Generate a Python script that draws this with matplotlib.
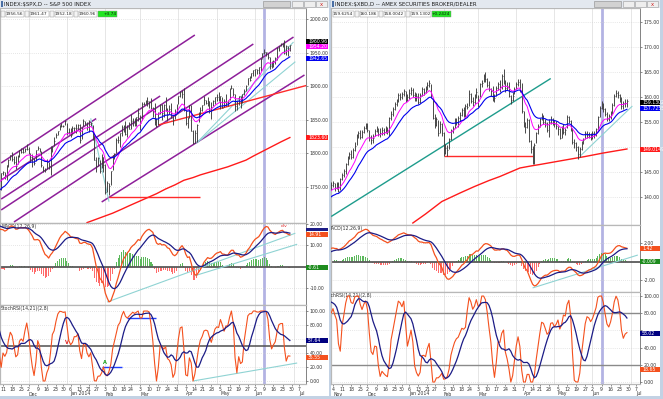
import numpy as np
import pandas as pd
import matplotlib
matplotlib.use("Agg")
import matplotlib.pyplot as plt
import matplotlib.transforms as mtransforms
from matplotlib.patches import Rectangle
from matplotlib.ticker import FuncFormatter

plt.rcParams["font.family"] = ["DejaVu Sans"]

W, H = 663, 399

HOLIDAYS = ["2013-11-28", "2013-12-25", "2014-01-01", "2014-01-20",
            "2014-02-17", "2014-04-18", "2014-05-26", "2014-07-04"]

# S&P 500 daily closes, 2013-09-03 .. 2014-06-27 (Sep/Oct only feed the indicators)
spx_close = [
    # Sep
    1639.8, 1653.1, 1655.1, 1655.2, 1671.7, 1684.0, 1689.1, 1683.4, 1688.0, 1697.6,
    1704.8, 1725.5, 1722.3, 1709.9, 1701.8, 1697.4, 1692.8, 1698.7, 1691.8, 1681.6,
    # Oct
    1695.0, 1693.9, 1678.7, 1690.5, 1676.1, 1655.5, 1656.4, 1692.6, 1703.2, 1710.1,
    1698.1, 1721.5, 1733.2, 1744.5, 1744.7, 1754.7, 1746.4, 1752.1, 1759.8, 1762.1,
    1772.0, 1763.3, 1756.5,
    # Nov
    1761.6, 1767.9, 1763.0, 1770.5, 1747.2, 1770.6, 1771.9, 1767.7, 1782.0, 1790.6,
    1798.2, 1791.5, 1787.9, 1781.4, 1795.9, 1804.8, 1802.5, 1802.8, 1807.2, 1805.8,
    # Dec
    1800.9, 1795.2, 1792.8, 1785.0, 1805.1, 1808.4, 1802.6, 1782.2, 1775.5, 1775.3,
    1786.5, 1781.0, 1810.7, 1809.6, 1818.3, 1828.0, 1833.3, 1842.0, 1841.4, 1841.1, 1848.4,
    # Jan
    1832.0, 1831.4, 1826.8, 1837.9, 1837.5, 1838.1, 1842.4, 1819.2, 1838.9, 1848.4,
    1845.9, 1838.7, 1843.8, 1844.9, 1828.5, 1790.3, 1781.6, 1792.5, 1774.2, 1794.2, 1782.6,
    # Feb
    1741.9, 1755.2, 1751.6, 1773.4, 1797.0, 1799.8, 1819.8, 1819.3, 1829.8, 1838.6,
    1840.8, 1828.8, 1839.8, 1836.3, 1847.6, 1845.1, 1845.2, 1854.3, 1859.5,
    # Mar
    1845.7, 1873.9, 1873.8, 1877.0, 1878.0, 1877.2, 1867.6, 1868.2, 1846.3, 1841.1,
    1858.8, 1872.3, 1860.8, 1872.0, 1866.5, 1857.4, 1865.6, 1852.6, 1849.0, 1857.6, 1872.3,
    # Apr
    1885.5, 1890.9, 1888.8, 1865.1, 1845.0, 1852.0, 1872.2, 1833.1, 1815.7, 1830.6,
    1843.0, 1862.3, 1864.9, 1871.9, 1879.6, 1875.4, 1878.6, 1863.4, 1869.4, 1878.3, 1884.0,
    # May
    1883.7, 1881.1, 1884.7, 1867.7, 1878.2, 1875.6, 1878.5, 1896.7, 1897.5, 1888.5,
    1870.9, 1877.9, 1885.1, 1872.8, 1888.0, 1892.5, 1900.5, 1911.9, 1909.8, 1920.0, 1923.6,
    # Jun
    1925.0, 1924.2, 1927.9, 1940.5, 1949.4, 1951.3, 1950.8, 1943.9, 1930.1, 1936.2,
    1937.8, 1942.0, 1957.0, 1959.5, 1962.9, 1962.6, 1950.0, 1959.5, 1957.2, 1960.96,
]
# bar highs and lows, from 2013-11-08
spx_bar_start = "2013-11-08"
spx_high = [
    1770.8, 1773.4, 1772.1, 1782.0, 1791.0, 1798.2, 1802.3, 1795.5, 1795.7, 1797.2,
    1804.8, 1808.4, 1808.4, 1808.5, 1813.6,
    1810.0, 1800.0, 1799.8, 1792.8, 1805.1, 1811.5, 1808.4, 1803.0, 1781.9, 1777.6,
    1791.0, 1786.8, 1811.0, 1810.9, 1823.8, 1829.8, 1833.3, 1842.8, 1844.9, 1842.5, 1849.4,
    1845.9, 1838.2, 1837.2, 1840.1, 1840.0, 1843.2, 1843.8, 1843.5, 1839.3, 1850.8,
    1847.5, 1846.5, 1849.3, 1846.9, 1842.4, 1826.8, 1795.0, 1793.9, 1789.8, 1798.8, 1793.9,
    1784.8, 1758.7, 1755.8, 1774.1, 1798.0, 1799.9, 1823.5, 1826.6, 1830.3, 1841.7,
    1843.0, 1847.5, 1842.9, 1846.1, 1858.7, 1852.7, 1852.7, 1854.5, 1867.9,
    1857.2, 1876.2, 1876.5, 1879.4, 1883.6, 1877.9, 1882.4, 1868.4, 1874.4, 1852.4,
    1862.3, 1873.8, 1874.1, 1873.5, 1884.0, 1867.0, 1871.9, 1875.2, 1855.6, 1866.6, 1873.0,
    1885.8, 1893.2, 1893.8, 1897.3, 1865.0, 1854.9, 1872.4, 1872.5, 1835.1, 1834.2,
    1844.0, 1862.3, 1869.6, 1871.9, 1884.9, 1879.7, 1884.1, 1877.7, 1877.0, 1880.0, 1884.1,
    1888.6, 1891.3, 1885.0, 1884.4, 1880.4, 1889.1, 1878.8, 1897.1, 1902.2, 1897.3,
    1888.0, 1878.3, 1886.0, 1884.9, 1888.8, 1896.3, 1901.3, 1912.3, 1914.5, 1920.0, 1924.0,
    1925.9, 1925.1, 1928.6, 1941.7, 1949.4, 1955.6, 1950.9, 1949.2, 1943.6, 1937.3,
    1939.3, 1943.7, 1957.7, 1959.9, 1963.9, 1963.7, 1968.2, 1960.8, 1959.9, 1961.47,
]
spx_low = [
    1746.2, 1767.9, 1762.3, 1760.6, 1780.2, 1790.8, 1788.4, 1784.7, 1777.2, 1783.6,
    1794.7, 1800.8, 1800.6, 1802.8, 1805.5,
    1798.7, 1787.9, 1779.1, 1783.4, 1788.9, 1805.1, 1801.8, 1780.1, 1772.4, 1772.5,
    1777.0, 1777.3, 1767.9, 1801.9, 1810.4, 1822.6, 1828.0, 1834.9, 1839.8, 1838.8, 1842.4,
    1827.7, 1829.1, 1823.7, 1828.7, 1831.4, 1830.4, 1834.4, 1815.5, 1821.9, 1841.0,
    1842.4, 1835.2, 1832.4, 1840.9, 1820.1, 1790.3, 1772.9, 1781.7, 1770.4, 1777.6, 1772.3,
    1739.7, 1743.1, 1737.9, 1752.6, 1776.0, 1791.8, 1800.4, 1815.9, 1809.2, 1825.2,
    1832.4, 1826.8, 1824.6, 1835.6, 1836.8, 1840.2, 1840.7, 1841.1, 1847.7,
    1834.4, 1849.2, 1871.6, 1874.0, 1870.6, 1867.0, 1866.1, 1854.4, 1841.9, 1839.6,
    1842.8, 1858.9, 1850.4, 1854.6, 1863.5, 1847.8, 1857.9, 1852.6, 1842.1, 1850.5, 1859.5,
    1873.0, 1883.8, 1882.7, 1863.3, 1841.7, 1837.4, 1852.4, 1833.1, 1814.4, 1815.8,
    1816.3, 1846.0, 1856.7, 1863.2, 1872.6, 1873.9, 1870.2, 1859.7, 1850.6, 1870.6, 1872.9,
    1878.0, 1878.5, 1866.8, 1867.7, 1868.9, 1870.1, 1870.1, 1880.0, 1896.1, 1885.8,
    1862.4, 1864.8, 1872.4, 1868.1, 1875.2, 1886.4, 1893.6, 1902.2, 1907.3, 1911.5, 1915.0,
    1915.9, 1918.8, 1918.6, 1922.9, 1942.4, 1947.2, 1944.6, 1940.1, 1925.8, 1927.7,
    1929.0, 1933.6, 1939.3, 1952.3, 1959.2, 1958.9, 1947.2, 1946.0, 1944.7, 1952.18,
]

# AMEX Securities Broker/Dealer index, 2013-09-03 .. 2014-06-27
xbd_close = [
    # Sep
    136.2, 136.9, 137.4, 137.0, 138.1, 139.0, 138.8, 138.3, 138.6, 139.2,
    139.6, 140.8, 140.3, 139.1, 137.9, 137.6, 137.2, 137.8, 137.1, 136.3,
    # Oct
    137.0, 136.4, 135.2, 135.9, 134.8, 133.4, 133.6, 136.3, 137.0, 137.4,
    136.6, 138.4, 139.2, 139.8, 139.9, 140.7, 140.1, 140.9, 141.4, 141.8,
    142.9, 142.5, 141.8,
    # Nov
    142.4, 142.8, 141.9, 142.6, 141.2, 143.6, 144.5, 145.3, 146.6, 147.8,
    148.6, 148.1, 149.4, 150.2, 152.3, 152.8, 152.0, 153.1, 153.9, 154.3,
    # Dec
    153.4, 152.0, 151.4, 151.9, 153.2, 153.6, 152.7, 152.9, 153.4, 153.0,
    153.5, 153.1, 155.8, 156.6, 157.6, 158.7, 159.2, 160.4, 160.0, 160.6, 161.2,
    # Jan
    159.7, 160.0, 160.9, 161.4, 160.5, 159.9, 160.2, 159.0, 160.4, 161.6,
    161.0, 161.9, 162.4, 162.8, 160.2, 155.9, 154.5, 155.6, 152.8, 154.6, 152.9,
    # Feb
    148.9, 149.9, 149.4, 151.6, 153.4, 153.8, 155.4, 155.0, 155.9, 156.5,
    157.4, 156.4, 158.3, 158.0, 160.6, 159.3, 159.0, 160.4, 161.0,
    # Mar
    159.2, 162.6, 162.9, 164.2, 163.6, 162.5, 161.7, 161.3, 159.6, 159.9,
    161.8, 162.6, 162.0, 164.2, 163.0, 161.9, 162.3, 160.2, 159.4, 160.3, 161.6,
    # Apr
    162.7, 163.1, 161.5, 157.2, 154.6, 154.0, 155.5, 151.3, 149.6, 148.7,
    150.4, 152.8, 154.2, 155.6, 156.3, 155.1, 154.8, 153.4, 155.0, 155.6, 155.1,
    # May
    154.6, 154.2, 153.6, 151.9, 153.8, 153.1, 153.5, 156.0, 155.2, 153.6,
    151.0, 150.8, 150.0, 148.6, 149.6, 150.9, 151.5, 152.8, 152.4, 152.6, 151.9,
    # Jun
    152.9, 152.5, 153.6, 156.0, 157.8, 158.8, 157.6, 156.7, 155.6, 156.2,
    156.9, 158.5, 160.3, 160.9, 160.4, 159.6, 158.2, 158.9, 158.9, 159.13,
]
xbd_bar_start = "2013-11-01"
xbd_high = [
    143.0, 143.3, 142.9, 143.1, 143.0, 143.8, 144.9, 145.7, 146.8, 148.2,
    149.0, 149.4, 149.8, 151.0, 152.6, 153.2, 153.4, 153.5, 154.3, 154.9,
    154.8, 153.5, 152.4, 152.6, 153.6, 154.3, 153.8, 153.9, 154.0, 153.9,
    154.2, 154.0, 156.0, 157.2, 158.1, 159.1, 159.6, 160.8, 160.9, 161.0, 161.7,
    161.2, 160.6, 161.6, 162.0, 161.8, 161.0, 160.9, 160.8, 160.8, 162.0,
    161.9, 162.3, 163.0, 163.4, 162.6, 159.9, 156.6, 156.0, 155.4, 155.3, 154.8,
    153.0, 150.6, 150.4, 151.9, 153.7, 154.2, 155.9, 155.9, 156.2, 157.0,
    157.9, 158.0, 158.6, 158.9, 161.4, 160.9, 160.0, 160.6, 161.9,
    160.4, 162.9, 163.5, 164.6, 165.0, 163.8, 163.2, 161.8, 162.2, 160.6,
    162.2, 163.0, 163.4, 164.6, 165.6, 163.4, 163.0, 163.0, 160.4, 161.0, 162.0,
    163.1, 163.6, 163.7, 162.8, 157.3, 155.0, 155.8, 155.6, 151.5, 150.2,
    150.8, 153.0, 154.6, 155.9, 156.9, 156.4, 155.7, 155.0, 155.6, 156.2, 155.9,
    155.5, 155.2, 154.3, 153.9, 154.2, 154.6, 153.9, 156.4, 156.2, 155.4,
    153.8, 151.6, 151.0, 150.3, 150.0, 151.3, 151.9, 153.2, 153.3, 153.1, 152.9,
    153.3, 153.2, 153.9, 156.3, 158.2, 159.3, 158.9, 157.8, 157.0, 156.6,
    157.2, 158.8, 160.6, 161.4, 161.3, 160.7, 160.1, 159.3, 159.6, 159.6,
]
xbd_low = [
    141.5, 142.0, 141.3, 141.7, 141.0, 141.4, 143.4, 144.0, 144.6, 146.5,
    147.6, 147.7, 147.9, 149.2, 150.4, 151.9, 151.6, 151.8, 152.9, 153.6,
    153.0, 151.3, 150.6, 150.9, 152.2, 153.0, 152.3, 152.1, 152.5, 152.4,
    152.8, 152.6, 152.2, 155.4, 156.3, 157.5, 158.3, 159.1, 159.5, 159.6, 160.3,
    159.0, 159.2, 159.7, 160.5, 160.0, 159.3, 159.2, 158.6, 158.9, 160.3,
    160.5, 160.8, 161.5, 162.0, 159.8, 155.6, 153.8, 154.2, 152.3, 152.9, 152.2,
    148.2, 148.6, 148.3, 149.6, 151.4, 152.8, 153.8, 154.4, 154.0, 155.3,
    156.2, 156.0, 156.1, 157.6, 158.2, 158.8, 158.3, 158.6, 159.8,
    158.1, 160.0, 162.1, 163.0, 163.0, 162.0, 161.3, 160.2, 159.2, 159.0,
    160.3, 161.5, 161.0, 161.6, 162.6, 161.0, 161.4, 160.0, 158.6, 159.2, 160.6,
    161.6, 162.3, 161.0, 156.8, 154.1, 152.9, 153.8, 151.0, 148.9, 146.6,
    146.7, 150.9, 152.6, 154.0, 155.4, 154.7, 154.0, 153.0, 152.1, 154.7, 154.5,
    154.0, 153.6, 152.4, 151.6, 151.8, 152.6, 152.4, 153.8, 154.8, 153.2,
    150.6, 149.9, 149.2, 147.7, 148.0, 149.5, 150.6, 151.7, 151.9, 151.8, 151.4,
    151.6, 151.9, 152.2, 153.4, 156.1, 157.6, 157.1, 156.2, 155.2, 155.3,
    155.6, 156.6, 158.3, 160.0, 159.9, 159.1, 157.7, 157.6, 158.1, 158.0,
]

# 200-day moving averages as shown (red curves)
spx_ma200_dates = ["2014-01-17", "2014-01-24", "2014-01-31", "2014-02-07", "2014-02-14",
                   "2014-02-21", "2014-02-28", "2014-03-07", "2014-03-14", "2014-03-21",
                   "2014-03-28", "2014-04-04", "2014-04-11", "2014-04-17", "2014-04-25",
                   "2014-05-02", "2014-05-09", "2014-05-16", "2014-05-23", "2014-05-30",
                   "2014-06-06", "2014-06-13", "2014-06-20", "2014-06-27"]
spx_ma200 = [1697, 1701, 1706, 1711, 1717, 1722, 1728, 1734, 1740, 1747, 1753, 1760,
             1764, 1768, 1772, 1776, 1780, 1785, 1790, 1796, 1803, 1810, 1817, 1823.6]
xbd_ma200_dates = ["2014-01-08", "2014-01-17", "2014-01-31", "2014-02-14", "2014-02-27",
                   "2014-03-11", "2014-03-19", "2014-04-03", "2014-04-11", "2014-04-21",
                   "2014-05-09", "2014-05-27", "2014-06-10", "2014-06-27"]
xbd_ma200 = [134.8, 136.6, 139.1, 140.8, 142.1, 143.3, 144.1, 145.8, 146.2, 146.5,
             147.4, 148.1, 148.8, 149.6]

# hand-drawn lines: (start date, start value, end date, end value)
spx_channel = [("2013-11-08", 1785.7, "2014-04-14", 1976.2),
               ("2013-11-08", 1760.4, "2014-01-27", 1851.8),
               ("2013-11-08", 1732.1, "2014-03-18", 1885.4),
               ("2013-11-08", 1715.8, "2014-05-30", 1962.8),
               ("2013-11-19", 1697.9, "2014-07-01", 1973.2),
               ("2014-01-30", 1727.7, "2014-07-10", 1916.7)]
spx_cyan = [("2014-01-22", 1852.2, "2014-02-05", 1728.1),
            ("2014-04-15", 1815.5, "2014-07-01", 1965.8),
            ("2014-04-15", 1815.5, "2014-07-02", 1936.5)]
spx_red = [("2014-03-17", 1842.3, "2014-07-14", 1901.8),
           ("2014-02-05", 1735.1, "2014-04-17", 1735.1)]
spx_macd_cyan = [("2014-02-04", -16.7, "2014-07-02", 15.7),
                 ("2014-04-14", -4.3, "2014-07-03", 10.5)]
spx_stoch_cyan = [("2014-04-11", 0.0, "2014-07-03", 25.7)]
spx_stoch_blue = [("2014-01-30", 20.0, "2014-02-14", 20.0),
                  ("2014-02-20", 90.0, "2014-03-14", 90.0)]
xbd_teal = [("2013-11-01", 136.1, "2014-04-29", 163.7)]
xbd_red = [("2014-02-03", 148.2, "2014-04-14", 148.2)]
xbd_cyan = [("2014-05-21", 148.1, "2014-07-02", 158.2)]
xbd_macd_cyan = [("2014-04-14", -2.86, "2014-07-08", 0.7)]

spx_header = ["1956.56", "1961.47", "1952.18", "1960.96"]
spx_change = "+3.74"
xbd_header = ["159.6254", "160.186", "158.0042", "159.1302"]
xbd_change = "+0.2424"

MARK_DATE = "2014-06-09"

ORANGE = "#f4511e"
NAVY = "#1c1c86"


def trading_days(start, end):
    days = pd.bdate_range(start, end)
    return days[~days.isin(pd.to_datetime(HOLIDAYS))]


calendar = trading_days("2013-09-03", "2014-07-25")
day_index = {d: i for i, d in enumerate(calendar)}


def xpos(date):
    return day_index[pd.Timestamp(date)]


def ema(values, span):
    return pd.Series(values).ewm(span=span, adjust=False).mean().to_numpy()


def macd(values):
    line = ema(values, 12) - ema(values, 26)
    signal = pd.Series(line).ewm(span=9, adjust=False).mean().to_numpy()
    return line, signal, line - signal


def stoch_rsi(values, n_rsi=14, n_st=21, k=2, d=8):
    s = pd.Series(values)
    delta = s.diff()
    gain = delta.clip(lower=0).ewm(alpha=1 / n_rsi, adjust=False).mean()
    loss = (-delta.clip(upper=0)).ewm(alpha=1 / n_rsi, adjust=False).mean()
    rsi = 100 - 100 / (1 + gain / loss)
    lo = rsi.rolling(n_st).min()
    hi = rsi.rolling(n_st).max()
    raw = (rsi - lo) / (hi - lo) * 100
    fast = raw.rolling(k).mean()
    slow = fast.rolling(d).mean()
    return fast.to_numpy(), slow.to_numpy()


fig = plt.figure(figsize=(W / 100, H / 100), dpi=100)
fig.patch.set_facecolor("#c3d2e4")


def fx(px):
    return px / W


def fy(py):
    return 1 - py / H


def fig_box(x0, y0, x1, y1, fc, ec="none", lw=0.4, z=-5):
    fig.add_artist(Rectangle((fx(x0), fy(y1)), (x1 - x0) / W, (y1 - y0) / H,
                             transform=fig.transFigure, fc=fc, ec=ec, lw=lw, zorder=z))


def add_axes_px(x0, y0, x1, y1):
    return fig.add_axes([fx(x0), fy(y1), (x1 - x0) / W, (y1 - y0) / H])


def draw_segments(ax, segs, color, lw):
    for d0, v0, d1, v1 in segs:
        ax.plot([xpos(d0), xpos(d1)], [v0, v1], color=color, lw=lw, zorder=3,
                solid_capstyle="butt")


def value_box(ax, y, text, fc, tc, strip, w_px, h_px, box_px=5.0, z=7):
    y0, y1 = ax.get_ylim()
    h = (y1 - y0) / h_px * box_px
    tr = mtransforms.blended_transform_factory(ax.transAxes, ax.transData)
    ax.add_patch(Rectangle((1.0, y - h / 2), strip / w_px, h, transform=tr, fc=fc,
                           ec="none", clip_on=False, zorder=z))
    if text:
        ax.text(1.0 + 2 / w_px, y, text, transform=tr, fontsize=3.3, color=tc,
                ha="left", va="center", clip_on=False, zorder=z + 1)


def tick_formatter(hidden):
    return FuncFormatter(lambda v, p: "" if any(abs(v - h) < 1e-9 for h in hidden)
                         else "%.2f" % v)


def draw_window(x0, x1, strip, rows, close, high, low, bar_start, ma_dates, ma_vals,
                lims, yticks, hidden, tick_a, tick_b):
    w_px = x1 - x0
    axp = add_axes_px(x0, rows[0], x1, rows[1])
    axm = add_axes_px(x0, rows[1], x1, rows[2])
    axs = add_axes_px(x0, rows[2], x1, rows[3])
    axes = (axp, axm, axs)

    ia, ib = xpos(tick_a[0]), xpos(tick_b[0])
    k = (tick_b[1] - tick_a[1]) / (ib - ia)
    xlim = (ia - tick_a[1] / k, ia + (w_px - tick_a[1]) / k)

    month_first = [i for i in range(1, len(calendar))
                   if calendar[i].month != calendar[i - 1].month]
    week_first = [i for i in range(1, len(calendar))
                  if calendar[i].weekday() < calendar[i - 1].weekday()]

    for ax, lim, ticks, hide in zip(axes, lims, yticks, hidden):
        ax.set_xlim(*xlim)
        ax.set_ylim(*lim)
        ax.set_facecolor("white")
        for s in ax.spines.values():
            s.set_color("#b8b8b8")
            s.set_linewidth(0.9)
        ax.spines["right"].set_color("#6e6e6e")
        ax.spines["right"].set_linewidth(0.6)
        ax.yaxis.tick_right()
        ax.set_yticks(ticks)
        ax.yaxis.set_major_formatter(tick_formatter(hide))
        ax.tick_params(axis="y", labelsize=3.3, length=1.5, pad=1.2, colors="#333333",
                       width=0.4)
        ax.tick_params(axis="x", length=0, labelbottom=False)
        ax.grid(axis="y", color="#cfcfcf", lw=0.5, ls=(0, (1, 2)))
        for m in month_first:
            ax.axvline(m, color="#e2e2e2", lw=0.6, zorder=0)
        ax.axvline(xpos(MARK_DATE), color="#b3b3e3", lw=2.0, zorder=1)

    n = len(close)
    x = np.arange(n)
    xb = np.arange(xpos(bar_start), xpos(bar_start) + len(high))
    cb = np.asarray(close)[xb]

    # price panel
    axp.vlines(xb, low, high, color="#3c3c3c", lw=0.65, zorder=4)
    axp.hlines(cb, xb, xb + 0.5, color="#3c3c3c", lw=0.5, zorder=4)
    axp.plot(x, ema(close, 10), color="#ff00ff", lw=0.7, zorder=5)
    axp.plot(x, ema(close, 20), color="#0000ee", lw=0.8, zorder=5)
    axp.plot([xpos(d) for d in ma_dates], ma_vals, color="#ff1a1a", lw=1.0, zorder=3)

    # MACD panel
    line, signal, hist = macd(close)
    axm.bar(x, hist, width=0.55, color=np.where(hist >= 0, "#5cb85c", "#ff6b6b"),
            linewidth=0, zorder=2)
    axm.axhline(0, color="#5a5a5a", lw=1.3, zorder=2)
    axm.plot(x, line, color=ORANGE, lw=0.9, zorder=4)
    axm.plot(x, signal, color=NAVY, lw=0.9, zorder=4)

    # StochRSI panel
    fast, slow = stoch_rsi(close)
    axs.plot(x, fast, color=ORANGE, lw=0.8, zorder=4)
    axs.plot(x, slow, color=NAVY, lw=0.9, zorder=4)

    ticks = [i for i in week_first if xlim[0] <= i < xlim[1]]
    axs.set_xticks(ticks)
    axs.set_xticklabels([str(calendar[i].day) for i in ticks])
    axs.tick_params(axis="x", length=1.5, width=0.4, labelsize=3.3, pad=0.8,
                    labelbottom=True, colors="#333333")
    tr = mtransforms.blended_transform_factory(axs.transData, fig.transFigure)
    prev = None
    for i in ticks:
        if prev is None or calendar[i].month != calendar[prev].month:
            if calendar[i].day <= 7:
                name = calendar[i].strftime("%b")
                if name == "Jan":
                    name = "Jan 2014"
                axs.text(i, fy(394), name, transform=tr, fontsize=3.3, ha="left",
                         va="center", color="#333333", clip_on=False)
        prev = i

    info = dict(w=w_px, hp=rows[1] - rows[0], hm=rows[2] - rows[1],
                hs=rows[3] - rows[2], strip=strip, ema10=ema(close, 10))
    return axp, axm, axs, info


assert len(spx_close) == len(xbd_close) == xpos("2014-06-27") + 1
assert len(spx_high) == len(spx_low) == len(spx_close) - xpos(spx_bar_start)
assert len(xbd_high) == len(xbd_low) == len(xbd_close) - xpos(xbd_bar_start)

# window frames
fig_box(0, 0, 329, 396, "white")
fig_box(331, 0, 660, 396, "white")
for wx0, wx1, title in ((0, 329, "INDEX:$SPX,D -- S&P 500 INDEX"),
                        (331, 660, "INDEX:$XBD,D -- AMEX SECURITIES BROKER/DEALER")):
    fig_box(wx0, 0, wx1, 8, "#e3e8ef", z=1)
    fig_box(wx0 + 1, 1.5, wx0 + 3, 6.5, "#4a6fa5", z=2)
    fig.text(fx(wx0 + 4), fy(4.2), title, fontsize=3.9, color="#1e1e1e", va="center")
    fig_box(wx1 - 66, 1, wx1 - 39, 7, "#d2d2d2", ec="#8a8a8a", z=2)
    for bx in (wx1 - 37, wx1 - 25, wx1 - 13):
        fig_box(bx, 1.5, bx + 11, 6.5, "#eeeeee", ec="#9a9a9a", z=2)
    fig.text(fx(wx1 - 7.5), fy(4.2), "x", fontsize=3.8, color="#d02020",
             ha="center", va="center")

# left window: S&P 500
spx_p, spx_m, spx_s, si = draw_window(
    0, 306, 22, (8, 223, 305, 384), spx_close, spx_high, spx_low, spx_bar_start,
    spx_ma200_dates, spx_ma200,
    [(1696.4, 2016.4), (-18.1, 20.5), (-4.3, 108.6)],
    [[1750, 1800, 1850, 1900, 1950, 2000], [-10, 0, 10, 20], [0, 20, 40, 60, 80, 100]],
    [[], [0], [60]],
    ("2013-11-11", 3), ("2014-07-07", 299))
draw_segments(spx_p, spx_channel, "#8e1f9a", 1.1)
draw_segments(spx_p, spx_cyan, "#8fd3d3", 0.8)
draw_segments(spx_p, spx_red, "#ff2a2a", 1.0)
draw_segments(spx_m, spx_macd_cyan, "#8fd3d3", 0.8)
draw_segments(spx_s, spx_stoch_cyan, "#8fd3d3", 0.8)
draw_segments(spx_s, spx_stoch_blue, "#1f3fff", 1.0)
spx_s.axhline(50, color="#505050", lw=1.1, zorder=2)
spx_s.text(xpos("2014-01-02"), 55, "V", color="#e02020", fontsize=3.6,
           ha="center", va="center", fontweight="bold")
spx_s.text(xpos("2014-02-03"), 27, "A", color="#18a018", fontsize=3.6,
           ha="center", va="center", fontweight="bold")
spx_m.text(xpos("2014-06-24"), 19.2, "div", color="#e02020", fontsize=3.2,
           ha="center", va="center")
spx_m.text(0.004, 0.985, "MACD(12,26,9)", transform=spx_m.transAxes, fontsize=3.3,
           va="top", color="#333333")
spx_s.text(0.004, 0.985, "StochRSI(14,21)(2,8)", transform=spx_s.transAxes,
           fontsize=3.3, va="top", color="#333333")

value_box(spx_p, 1966.5, "1960.96", "black", "white", 22, si["w"], si["hp"])
value_box(spx_p, 1959.1, "%.2f" % si["ema10"][-1], "#ff00ff", "white", 22, si["w"], si["hp"])
value_box(spx_p, 1941.2, "1942.65", "#0000ee", "white", 22, si["w"], si["hp"])
value_box(spx_p, 1823.6, "1823.60", "#ff1a1a", "white", 22, si["w"], si["hp"])
value_box(spx_m, 17.4, None, NAVY, "white", 22, si["w"], si["hm"], box_px=3.0)
value_box(spx_m, 15.2, "14.91", ORANGE, "white", 22, si["w"], si["hm"])
value_box(spx_m, -0.6, "-0.61", "#1e8c1e", "white", 22, si["w"], si["hm"])
value_box(spx_s, 57.64, "57.64", "#000080", "white", 22, si["w"], si["hs"])
value_box(spx_s, 33.0, "35.55", ORANGE, "white", 22, si["w"], si["hs"])

# right window: broker/dealer index
xbd_p, xbd_m, xbd_s, xi = draw_window(
    331, 640, 20, (8, 225, 292, 384), xbd_close, xbd_high, xbd_low, xbd_bar_start,
    xbd_ma200_dates, xbd_ma200,
    [(134.4, 177.8), (-3.3, 3.95), (-2.3, 104.7)],
    [[140, 145, 150, 155, 160, 165, 170, 175], [-2, 0, 2], [0, 20, 40, 60, 80, 100]],
    [[150], [0], [60]],
    ("2013-11-04", 2), ("2014-07-07", 305))
draw_segments(xbd_p, xbd_teal, "#1e9c8c", 1.0)
draw_segments(xbd_p, xbd_red, "#ff2a2a", 1.0)
draw_segments(xbd_p, xbd_cyan, "#8fd3d3", 0.8)
draw_segments(xbd_m, xbd_macd_cyan, "#8fd3d3", 0.8)
xbd_s.axhline(80, color="#8a8a8a", lw=1.0, zorder=2)
xbd_s.axhline(20, color="#8a8a8a", lw=1.0, zorder=2)
xbd_m.text(-0.012, 0.985, "MACD(12,26,9)", transform=xbd_m.transAxes, fontsize=3.3,
           va="top", color="#333333", clip_on=True)
xbd_s.text(-0.022, 0.985, "StochRSI(14,21)(2,8)", transform=xbd_s.transAxes,
           fontsize=3.3, va="top", color="#333333", clip_on=True)

value_box(xbd_p, 159.0, "159.1302", "black", "white", 20, xi["w"], xi["hp"])
value_box(xbd_p, 157.7, "157.7255", "#0000ee", "white", 20, xi["w"], xi["hp"])
value_box(xbd_p, 149.6, "149.0149", "#ff1a1a", "white", 20, xi["w"], xi["hp"])
value_box(xbd_m, 1.42, "1.42", ORANGE, "white", 20, xi["w"], xi["hm"])
value_box(xbd_m, 0.0, "-0.009", "#1e8c1e", "white", 20, xi["w"], xi["hm"])
value_box(xbd_s, 56.0, "58.02", "#000080", "white", 20, xi["w"], xi["hs"])
value_box(xbd_s, 14.0, "18.65", ORANGE, "white", 20, xi["w"], xi["hs"])


def header_row(x_start, values, change, icon_first):
    x = x_start
    for j, v in enumerate(values):
        if icon_first or j > 0:
            fig_box(x, 11, x + 4, 17, "#f4f4f4", ec="#8a8a8a", lw=0.3, z=9)
            x += 5
        wv = 2.4 * len(v) + 1.5
        fig_box(x, 11, x + wv, 17, "white", ec="#8a8a8a", lw=0.3, z=9)
        fig.text(fx(x + wv - 1), fy(14), v, fontsize=3.1, ha="right", va="center",
                 color="#222222", zorder=10)
        x += wv + 1
    fig_box(x, 11, x + 19, 17, "#22e622", ec="#8a8a8a", lw=0.3, z=9)
    fig.text(fx(x + 18), fy(14), change, fontsize=3.1, ha="right", va="center",
             color="#111111", zorder=10)


header_row(1, spx_header, spx_change, True)
header_row(333, xbd_header, xbd_change, False)

fig.savefig("out.png", dpi=100, facecolor=fig.get_facecolor())
